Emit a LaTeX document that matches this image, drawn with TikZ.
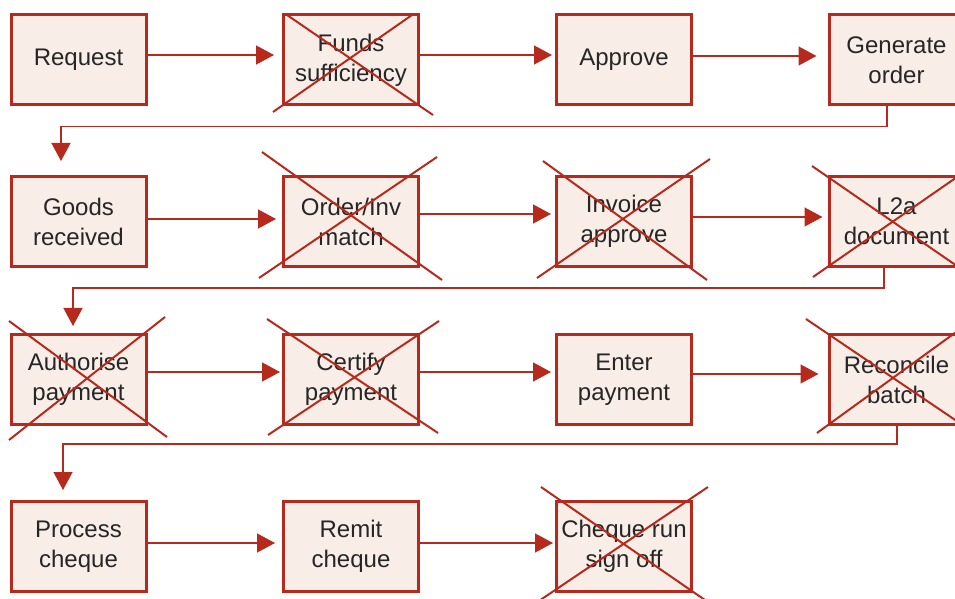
\documentclass[tikz,border=0pt]{standalone}
\usepackage{fontspec}
\setmainfont{Liberation Sans}
\usetikzlibrary{arrows.meta}
\definecolor{boxred}{RGB}{181,42,29}
\definecolor{boxfill}{RGB}{249,237,231}
\definecolor{textgrey}{RGB}{38,38,38}

\begin{document}
\begin{tikzpicture}[x=0.5pt,y=-0.5pt,font=\fontsize{12}{15}\selectfont,
  task/.style={draw=boxred,fill=boxfill,line width=1.5pt,text=textgrey,
    minimum width=67.5pt,minimum height=45pt,align=center,inner sep=0pt},
  flow/.style={draw=boxred,line width=0.7pt,-{Triangle[length=9pt,width=9.5pt]}},
  cross/.style={draw=boxred,line width=1pt}]
\useasboundingbox (0,0) rectangle (955,599);
% row 1
\node[task] (request) at (78.5,60) {Request};
\node[task] (funds) at (351,60) {Funds\\sufficiency};
\node[task] (approve) at (624,60) {Approve};
\node[task] (order) at (896.5,60) {Generate\\order};
% row 2
\node[task] (goods) at (78.5,221.5) {Goods\\received};
\node[task] (match) at (351,221.5) {Order/Inv\\match};
\node[task] (invoice) at (624,221.5) {Invoice\\approve};
\node[task] (ltwoa) at (896.5,221.5) {L2a\\document};
% row 3
\node[task] (authorise) at (78.5,379.5) {Authorise\\payment};
\node[task] (certify) at (351,379.5) {Certify\\payment};
\node[task] (enter) at (624,379.5) {Enter\\payment};
\node[task] (reconcile) at (896.5,379.5) {Reconcile\\batch};
% row 4
\node[task] (process) at (78.5,546.5) {Process\\cheque};
\node[task] (remit) at (351,546.5) {Remit\\cheque};
\node[task] (signoff) at (624,546.5) {Cheque run\\sign off};

% arrows along the rows
\foreach \a/\b/\s/\g in {request/funds/2.5/4,funds/approve/2.5/1.5,approve/order/2/5.5,
  goods/match/1.25/3,match/invoice/3.75/2,invoice/ltwoa/2.25/2.5,
  authorise/certify/3.75/1,certify/enter/3.75/2,enter/reconcile/2.75/4.5,
  process/remit/1.75/3.5,remit/signoff/1.75/1}
  \draw[flow,shorten >=\g pt] ([yshift=\s pt]\a.east) -- ([yshift=\s pt]\b.west);

% returns to the next row
\draw[flow] ([xshift=-4.75pt]order.south) -- ++(0,20) -| ([xshift=-8.75pt,yshift=7pt]goods.north);
\draw[flow] ([xshift=-6.25pt]ltwoa.south) -- ++(0,20) -| ([xshift=-2.75pt,yshift=3.5pt]authorise.north);
\draw[flow] ([xshift=0.25pt]reconcile.south) -- ++(0,18) -| ([xshift=-7.75pt,yshift=5pt]process.north);

% crossed out steps
\foreach \xa/\ya/\xb/\yb in {287/15/433/115,412/15/273/112,
  262/152/442/280,437/157/259/278,
  543/161/707/280,710/159/537/278,
  812/166/970/275,813/277/970/168,
  9/321/167/437,165/317/9/440,
  267/319/438/433,439/321/268/435,
  806/319/970/430,817/433/970/322,
  541/487/718/609,708/487/527/609}
  \draw[cross] (\xa,\ya) -- (\xb,\yb);
\end{tikzpicture}
\end{document}
